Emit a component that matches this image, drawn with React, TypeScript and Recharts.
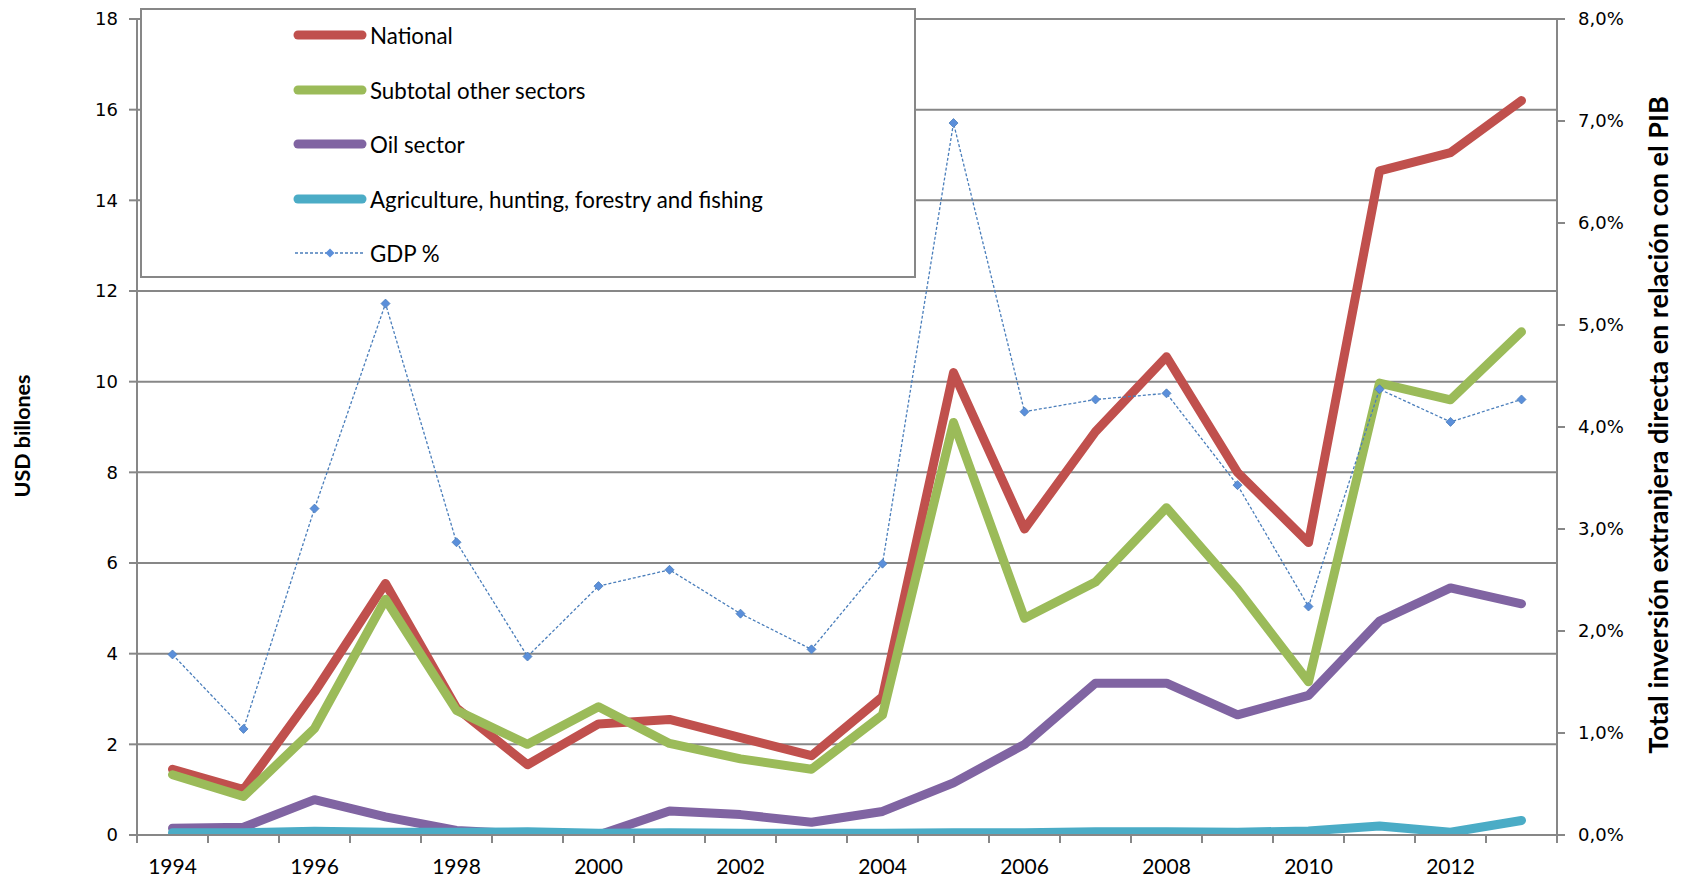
import React from 'react';
import {
  CartesianGrid,
  ComposedChart,
  Legend,
  Line,
  XAxis,
  YAxis,
} from 'recharts';

// IED en Colombia por sector (USD billones) y total como % del PIB, 1994–2013

const years = [
  '1994', '1995', '1996', '1997', '1998', '1999', '2000', '2001', '2002', '2003',
  '2004', '2005', '2006', '2007', '2008', '2009', '2010', '2011', '2012', '2013',
];
const national = [
  1.45, 1.0, 3.15, 5.55, 2.8, 1.55, 2.45, 2.55, 2.15, 1.75,
  3.05, 10.2, 6.75, 8.9, 10.55, 8.0, 6.45, 14.65, 15.05, 16.2,
];
const otherSectors = [
  1.33, 0.85, 2.35, 5.2, 2.75, 2.0, 2.83, 2.02, 1.68, 1.45,
  2.65, 9.1, 4.78, 5.58, 7.22, 5.42, 3.38, 9.97, 9.6, 11.1,
];
const oilSector = [
  0.15, 0.17, 0.78, 0.4, 0.1, 0.02, 0.0, 0.53, 0.45, 0.28,
  0.52, 1.15, 2.0, 3.35, 3.35, 2.65, 3.08, 4.72, 5.45, 5.1,
];
const agriculture = [
  0.05, 0.05, 0.08, 0.06, 0.06, 0.07, 0.04, 0.05, 0.04, 0.04,
  0.04, 0.05, 0.05, 0.07, 0.07, 0.06, 0.09, 0.2, 0.06, 0.32,
];
const gdpPct = [
  1.77, 1.04, 3.2, 5.21, 2.87, 1.75, 2.44, 2.6, 2.17, 1.82,
  2.66, 6.98, 4.15, 4.27, 4.33, 3.43, 2.24, 4.37, 4.05, 4.27,
];

const leftTicks = [0, 2, 4, 6, 8, 10, 12, 14, 16, 18];
const rightTicks = [0, 1, 2, 3, 4, 5, 6, 7, 8];

const data = years.map((year, i) => ({
  year,
  national: national[i],
  other: otherSectors[i],
  oil: oilSector[i],
  agri: agriculture[i],
  gdp: gdpPct[i],
}));

const GRAY = '#878787';
const TICK_FONT = '"DejaVu Sans", Verdana, sans-serif';
const TEXT_FONT = 'Lato, "Open Sans", sans-serif';

const legendItems = [
  { label: 'National', color: '#C0504D' },
  { label: 'Subtotal other sectors', color: '#9BBB59' },
  { label: 'Oil sector', color: '#8064A2' },
  { label: 'Agriculture, hunting, forestry and fishing', color: '#4BACC6' },
];

function YearTick(props: any) {
  const { x, y, payload, index } = props;
  const off = payload?.offset ?? 35.5;
  const last = index === years.length - 1;
  return (
    <g>
      <line x1={x - off} x2={x - off} y1={y - 8} y2={y} stroke={GRAY} strokeWidth={2} />
      {last && <line x1={x + off} x2={x + off} y1={y - 8} y2={y} stroke={GRAY} strokeWidth={2} />}
      {index % 2 === 0 && (
        <text x={x} y={y + 31} textAnchor="middle" fontFamily={TEXT_FONT} fontSize={21} fill="#000">
          {payload.value}
        </text>
      )}
    </g>
  );
}

function Diamond(props: any) {
  const { cx, cy } = props;
  if (cx == null || cy == null) return null;
  const r = 4.5;
  return (
    <path
      d={`M${cx},${cy - r} L${cx + r},${cy} L${cx},${cy + r} L${cx - r},${cy} Z`}
      fill="#5B8FDA"
      stroke="#4A7EBB"
      strokeWidth={0.8}
    />
  );
}

function LegendBox() {
  const rowY = [25, 80, 134, 189, 243];
  return (
    <div
      style={{
        position: 'relative',
        width: 776,
        height: 270,
        boxSizing: 'border-box',
        border: `2px solid ${GRAY}`,
        background: '#fff',
        fontFamily: TEXT_FONT,
        fontSize: 22.3,
        color: '#000',
      }}
    >
      {legendItems.map((it, i) => (
        <div key={it.label} style={{ position: 'absolute', left: 151, top: rowY[i] - 15, height: 30, display: 'flex', alignItems: 'center' }}>
          <svg width={74} height={12} style={{ marginRight: 3 }}>
            <line x1={5} x2={69} y1={6} y2={6} stroke={it.color} strokeWidth={9} strokeLinecap="round" />
          </svg>
          <span>{it.label}</span>
        </div>
      ))}
      <div style={{ position: 'absolute', left: 151, top: rowY[4] - 15, height: 30, display: 'flex', alignItems: 'center' }}>
        <svg width={74} height={12} style={{ marginRight: 3 }}>
          <line x1={2} x2={72} y1={6} y2={6} stroke="#4A7EBB" strokeWidth={1.3} strokeDasharray="3 2" />
          <path d="M37,1.5 L41.5,6 L37,10.5 L32.5,6 Z" fill="#5B8FDA" />
        </svg>
        <span>GDP %</span>
      </div>
    </div>
  );
}

export default function App() {
  return (
    <div style={{ position: 'absolute', left: 0, top: 0, width: 1687, height: 879, background: '#fff' }}>
      <ComposedChart
        width={1687}
        height={879}
        data={data}
        margin={{ top: 19, right: 0, bottom: 0, left: 0 }}
      >
        <CartesianGrid yAxisId="left" vertical={false} stroke={GRAY} strokeWidth={2} />
        <XAxis
          dataKey="year"
          scale="band"
          height={44}
          interval={0}
          tickSize={8}
          tickMargin={0}
          axisLine={{ stroke: GRAY, strokeWidth: 2 }}
          tickLine={{ stroke: 'none' }}
          tick={<YearTick />}
        />
        <YAxis
          yAxisId="left"
          width={137}
          domain={[0, 18]}
          ticks={leftTicks}
          allowDataOverflow
          tickSize={8}
          tickMargin={11}
          axisLine={{ stroke: GRAY, strokeWidth: 2 }}
          tickLine={{ stroke: GRAY, strokeWidth: 2 }}
          tick={{ fill: '#000', fontSize: 18, fontFamily: TICK_FONT }}
          label={{
            content: () => (
              <text
                x={22}
                y={436}
                transform="rotate(-90, 22, 436)"
                textAnchor="middle"
                dominantBaseline="central"
                fontFamily={TEXT_FONT}
                fontWeight="bold"
                fontSize={21.5}
                fill="#000"
              >
                USD billones
              </text>
            ),
          }}
        />
        <YAxis
          yAxisId="right"
          orientation="right"
          width={130}
          domain={[0, 8]}
          ticks={rightTicks}
          allowDataOverflow
          tickSize={8}
          tickMargin={13}
          axisLine={{ stroke: GRAY, strokeWidth: 2 }}
          tickLine={{ stroke: GRAY, strokeWidth: 2 }}
          tick={{ fill: '#000', fontSize: 18, fontFamily: TICK_FONT }}
          tickFormatter={(v: number) => `${v.toFixed(1).replace('.', ',')}%`}
          label={{
            content: () => (
              <text
                x={1657}
                y={425}
                transform="rotate(-90, 1657, 425)"
                textAnchor="middle"
                dominantBaseline="central"
                fontFamily={TEXT_FONT}
                fontWeight="bold"
                fontSize={27}
                fill="#000"
              >
                Total inversión extranjera directa en relación con el PIB
              </text>
            ),
          }}
        />
        <Legend
          layout="horizontal"
          verticalAlign="middle"
          align="center"
          content={() => <LegendBox />}
          wrapperStyle={{ position: 'absolute', left: 140, top: 8, width: 776, height: 270 }}
        />
        <Line yAxisId="left" dataKey="national" stroke="#C0504D" strokeWidth={9} strokeLinecap="round" strokeLinejoin="round" dot={false} isAnimationActive={false} />
        <Line yAxisId="left" dataKey="other" stroke="#9BBB59" strokeWidth={9} strokeLinecap="round" strokeLinejoin="round" dot={false} isAnimationActive={false} />
        <Line yAxisId="left" dataKey="oil" stroke="#8064A2" strokeWidth={9} strokeLinecap="round" strokeLinejoin="round" dot={false} isAnimationActive={false} />
        <Line yAxisId="left" dataKey="agri" stroke="#4BACC6" strokeWidth={9} strokeLinecap="round" strokeLinejoin="round" dot={false} isAnimationActive={false} />
        <Line yAxisId="right" dataKey="gdp" stroke="#4A7EBB" strokeWidth={1.3} strokeDasharray="3 2" dot={<Diamond />} activeDot={false} isAnimationActive={false} />
      </ComposedChart>
    </div>
  );
}
